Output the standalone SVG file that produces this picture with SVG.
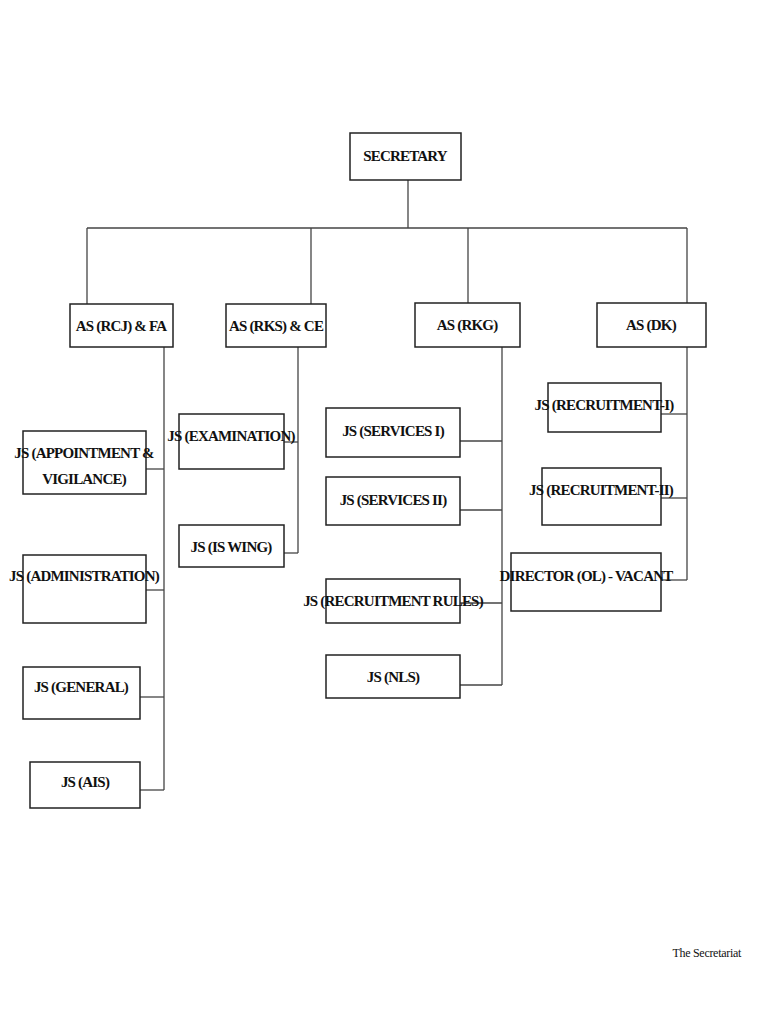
<svg xmlns="http://www.w3.org/2000/svg" width="768" height="1024" viewBox="0 0 768 1024">
<style>
rect{fill:#fff;stroke:#222;stroke-width:1.5}
text{font-family:"Liberation Serif",serif;font-weight:bold;font-size:15px;text-anchor:middle;fill:#111;letter-spacing:-0.8px}
#connectors line{stroke:#444;stroke-width:1.3}
.foot{font-weight:normal;font-size:12px;text-anchor:end;letter-spacing:-0.3px}
</style>
<rect x="0" y="0" width="768" height="1024" style="fill:#fff;stroke:none"/>
<g id="connectors">
<line x1="408" y1="180" x2="408" y2="228"/>
<line x1="87" y1="228" x2="687" y2="228"/>
<line x1="87" y1="228" x2="87" y2="304"/>
<line x1="311" y1="228" x2="311" y2="304"/>
<line x1="468" y1="228" x2="468" y2="303"/>
<line x1="687" y1="228" x2="687" y2="303"/>
<line x1="164" y1="347" x2="164" y2="790"/>
<line x1="146" y1="469" x2="164" y2="469"/>
<line x1="146" y1="590" x2="164" y2="590"/>
<line x1="140" y1="697" x2="164" y2="697"/>
<line x1="140" y1="790" x2="164" y2="790"/>
<line x1="298" y1="347" x2="298" y2="553"/>
<line x1="284" y1="442" x2="298" y2="442"/>
<line x1="284" y1="553" x2="298" y2="553"/>
<line x1="502" y1="347" x2="502" y2="685"/>
<line x1="460" y1="441" x2="502" y2="441"/>
<line x1="460" y1="510" x2="502" y2="510"/>
<line x1="460" y1="603" x2="502" y2="603"/>
<line x1="460" y1="685" x2="502" y2="685"/>
<line x1="687" y1="347" x2="687" y2="580"/>
<line x1="661" y1="414" x2="687" y2="414"/>
<line x1="661" y1="498" x2="687" y2="498"/>
<line x1="661" y1="580" x2="687" y2="580"/>
</g>
<g id="secretary"><rect x="350" y="133" width="111" height="47"/><text x="405" y="161">SECRETARY</text></g>
<g id="as-rcj"><rect x="70" y="304" width="103" height="43"/><text x="121" y="331">AS (RCJ) &amp; FA</text></g>
<g id="as-rks"><rect x="226" y="304" width="100" height="43"/><text x="276" y="331">AS (RKS) &amp; CE</text></g>
<g id="as-rkg"><rect x="415" y="303" width="105" height="44"/><text x="467" y="330">AS (RKG)</text></g>
<g id="as-dk"><rect x="597" y="303" width="109" height="44"/><text x="651" y="330">AS (DK)</text></g>
<g id="js-appt"><rect x="23" y="431" width="123" height="63"/><text x="84" y="458">JS (APPOINTMENT &amp;</text><text x="84" y="484">VIGILANCE)</text></g>
<g id="js-admin"><rect x="23" y="555" width="123" height="68"/><text x="84" y="581">JS (ADMINISTRATION)</text></g>
<g id="js-general"><rect x="23" y="667" width="117" height="52"/><text x="81" y="692">JS (GENERAL)</text></g>
<g id="js-ais"><rect x="30" y="762" width="110" height="46"/><text x="85" y="787">JS (AIS)</text></g>
<g id="js-exam"><rect x="179" y="414" width="105" height="55"/><text x="231" y="441">JS (EXAMINATION)</text></g>
<g id="js-iswing"><rect x="179" y="525" width="105" height="42"/><text x="231" y="552">JS (IS WING)</text></g>
<g id="js-serv1"><rect x="326" y="408" width="134" height="49"/><text x="393" y="436">JS (SERVICES I)</text></g>
<g id="js-serv2"><rect x="326" y="477" width="134" height="48"/><text x="393" y="505">JS (SERVICES II)</text></g>
<g id="js-recrules"><rect x="326" y="579" width="134" height="44"/><text x="393" y="606">JS (RECRUITMENT RULES)</text></g>
<g id="js-nls"><rect x="326" y="655" width="134" height="43"/><text x="393" y="682">JS (NLS)</text></g>
<g id="js-rec1"><rect x="548" y="383" width="113" height="49"/><text x="604" y="410">JS (RECRUITMENT-I)</text></g>
<g id="js-rec2"><rect x="542" y="468" width="119" height="57"/><text x="601" y="495">JS (RECRUITMENT-II)</text></g>
<g id="director"><rect x="511" y="553" width="150" height="58"/><text x="586" y="581">DIRECTOR (OL) - VACANT</text></g>
<text class="foot" x="741" y="957">The Secretariat</text>
</svg>
